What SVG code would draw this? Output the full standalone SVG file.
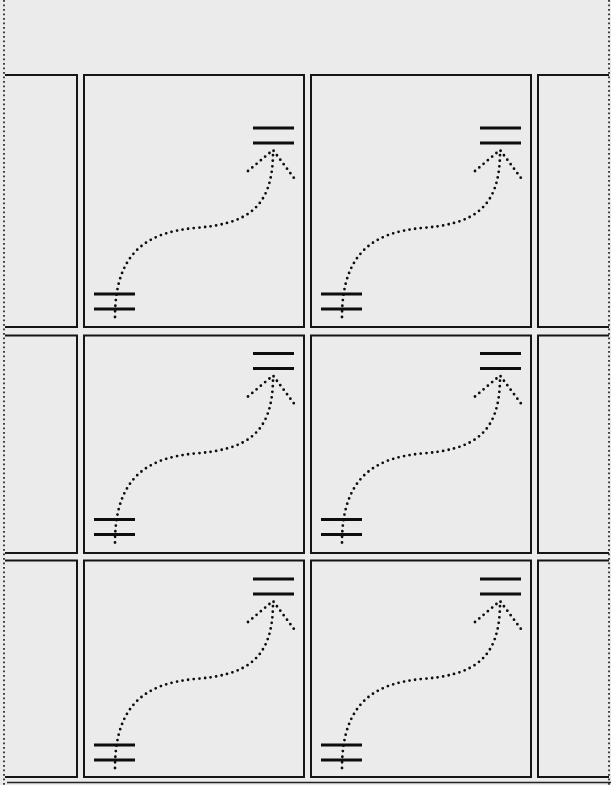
<svg xmlns="http://www.w3.org/2000/svg" xmlns:xlink="http://www.w3.org/1999/xlink" width="611" height="785" viewBox="0 0 611 785">
<style>
.cell{fill:none;stroke:#151515;stroke-width:2}
.eq{stroke:#0d0d0d;stroke-width:3.2;fill:none}
.dot{fill:none;stroke:#0d0d0d;stroke-width:2.8;stroke-linecap:round;stroke-dasharray:0 5.6}
.edge{fill:none;stroke:#222;stroke-width:1.7;stroke-dasharray:1.7 2.8}
</style>
<defs>
<g id="sym">
<line class="eq" x1="253" y1="128" x2="294" y2="128"/>
<line class="eq" x1="253" y1="143" x2="294" y2="143"/>
<line class="eq" x1="94" y1="294" x2="135" y2="294"/>
<line class="eq" x1="94" y1="309" x2="135" y2="309"/>
</g>
<g id="arr">
<path class="dot" d="M115,317 C115,250 150,232 195,228 C245,224 273,210 273,152"/>
<path class="dot" d="M248,171 L273,150 L294,178"/>
</g>
</defs>
<rect width="611" height="785" fill="#ebebeb"/>
<line class="edge" x1="4" y1="0" x2="4" y2="785"/>
<line class="edge" x1="609" y1="0" x2="609" y2="785"/>
<line x1="7" y1="782.5" x2="611" y2="782.5" stroke="#222" stroke-width="1.6"/>
<g id="r1c0"><path class="cell" d="M5,75 H77 V327 H5"/></g>
<g id="r1c1"><rect class="cell" x="84" y="75" width="220" height="252"/><use xlink:href="#sym"/></g>
<g id="r1c2"><rect class="cell" x="311" y="75" width="220" height="252"/><use xlink:href="#sym" transform="translate(227,0)"/></g>
<g id="r1c3"><path class="cell" d="M609,75 H538 V327 H609"/></g>
<g id="r2c0"><path class="cell" d="M5,335.5 H77 V553 H5"/></g>
<g id="r2c1"><rect class="cell" x="84" y="335.5" width="220" height="217.5"/><use xlink:href="#sym" transform="translate(0,225.5)"/></g>
<g id="r2c2"><rect class="cell" x="311" y="335.5" width="220" height="217.5"/><use xlink:href="#sym" transform="translate(227,225.5)"/></g>
<g id="r2c3"><path class="cell" d="M609,335.5 H538 V553 H609"/></g>
<g id="r3c0"><path class="cell" d="M5,560.5 H77 V777 H5"/></g>
<g id="r3c1"><rect class="cell" x="84" y="560.5" width="220" height="216.5"/><use xlink:href="#sym" transform="translate(0,451)"/></g>
<g id="r3c2"><rect class="cell" x="311" y="560.5" width="220" height="216.5"/><use xlink:href="#sym" transform="translate(227,451)"/></g>
<g id="r3c3"><path class="cell" d="M609,560.5 H538 V777 H609"/></g>
<g id="connectors">
<use xlink:href="#arr"/>
<use xlink:href="#arr" transform="translate(227,0)"/>
<use xlink:href="#arr" transform="translate(0,225.5)"/>
<use xlink:href="#arr" transform="translate(227,225.5)"/>
<use xlink:href="#arr" transform="translate(0,451)"/>
<use xlink:href="#arr" transform="translate(227,451)"/>
</g>
</svg>
